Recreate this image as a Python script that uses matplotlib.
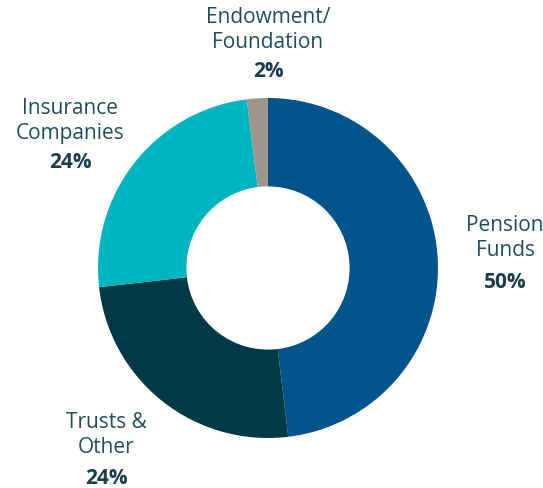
import matplotlib.pyplot as plt

# investor mix (share of assets), slices
categories = ['Pension\nFunds', 'Trusts &\nOther', 'Insurance\nCompanies', 'Endowment/\nFoundation']
shares = [48.1, 25.1, 24.8, 2.0]
pct_labels = ['50%', '24%', '24%', '2%']
colors = ['#03548A', '#023946', '#00B5BF', '#A0968E']

# label anchor points (pixels from top-left of the figure)
label_px = [(505, 238), (106, 435), (70, 121), (268, 30)]
pct_px = [(505, 283), (106, 479), (70, 163), (268, 72)]

W, H = 543, 489
cx, cy, R = 268, 269, 170

fig = plt.figure(figsize=(W / 100, H / 100), dpi=100)
ax = fig.add_axes([0, 0, 1, 1])
ax.pie(shares, colors=colors, startangle=90, counterclock=False,
       radius=1, wedgeprops=dict(width=0.52, edgecolor='none'))
ax.set_xlim(-cx / R, (W - cx) / R)
ax.set_ylim(-(H - cy) / R, cy / R)
ax.set_aspect('equal')
ax.axis('off')


def to_data(px, py):
    return (px - cx) / R, (cy - py) / R


for name, pct, (lx, ly), (px, py) in zip(categories, pct_labels, label_px, pct_px):
    x, y = to_data(lx, ly)
    ax.text(x, y, name, ha='center', va='center', fontsize=15,
            family='Open Sans', color='#1F4E5A', linespacing=1.2)
    x, y = to_data(px, py)
    ax.text(x, y, pct, ha='center', va='center', fontsize=15,
            family='Open Sans', fontweight='bold', color='#163F4B')

fig.savefig('out.png', dpi=100)
